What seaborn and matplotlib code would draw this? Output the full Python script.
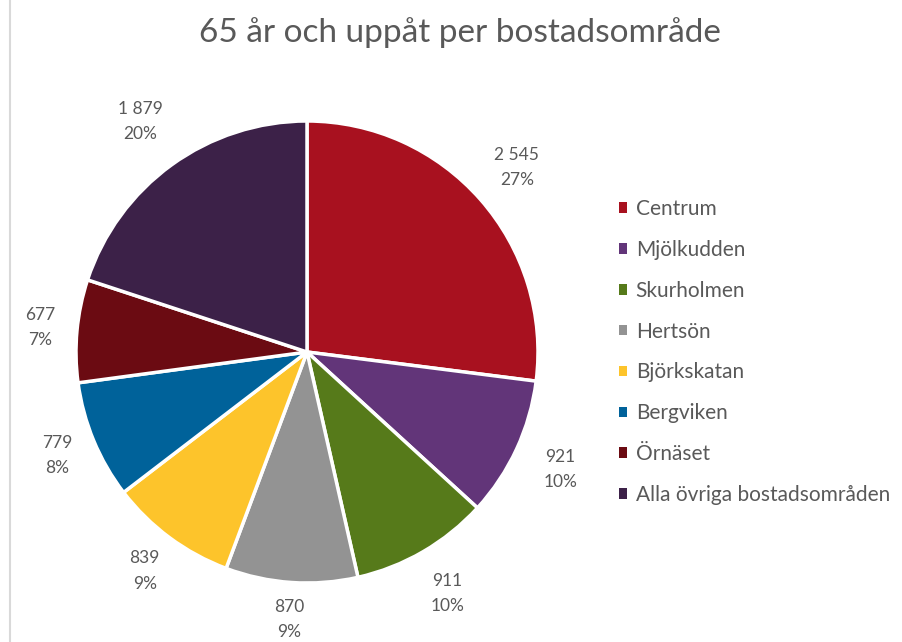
import numpy as np
import pandas as pd
import seaborn as sns
import matplotlib.pyplot as plt
from matplotlib.patches import Patch
from matplotlib.lines import Line2D

# data
omraden = ['Centrum', 'Mjölkudden', 'Skurholmen', 'Hertsön', 'Björkskatan',
           'Bergviken', 'Örnäset', 'Alla övriga bostadsområden']
antal = [2545, 921, 911, 870, 839, 779, 677, 1879]
farger = ['#A8111F', '#623579', '#567A1A', '#939393', '#FDC42B',
          '#00629A', '#6B0B12', '#3C2148']
# hur långt ut varje etikett sitter (i radier)
etikett_avstand = [1.21, 1.21, 1.21, 1.16, 1.18, 1.17, 1.16, 1.23]

df = pd.DataFrame({'omrade': omraden, 'antal': antal})
df['andel'] = df['antal'] / df['antal'].sum()

sns.set_theme(style='white')
plt.rcParams['font.family'] = ['Lato', 'DejaVu Sans']
textfarg = '#595959'

fig = plt.figure(figsize=(9.03, 6.42), dpi=100)

# pie axes: center at (307, 352) px, radius 231 px
R = 231
lim = 1.3
w = 2 * lim * R
ax = fig.add_axes([(307 - w / 2) / 903, (642 - 352 - w / 2) / 642, w / 903, w / 642])

palette = sns.color_palette(farger)
etiketter = [f"{a:,}".replace(',', ' ') + f"\n{p:.0%}" for a, p in zip(df['antal'], df['andel'])]

wedges, texts = ax.pie(df['antal'], colors=palette, startangle=90, counterclock=False,
                       labels=etiketter, labeldistance=1.21,
                       wedgeprops=dict(edgecolor='white', linewidth=2.5),
                       textprops=dict(color=textfarg, fontsize=12.5, linespacing=1.7))
for wdg, t, d in zip(wedges, texts, etikett_avstand):
    vinkel = np.deg2rad((wdg.theta1 + wdg.theta2) / 2)
    t.set_position((d * np.cos(vinkel), d * np.sin(vinkel)))
    t.set_horizontalalignment('center')
    t.set_verticalalignment('center')
ax.set_xlim(-lim, lim)
ax.set_ylim(-lim, lim)
ax.axis('off')

fig.text(460 / 903, 1 - 33 / 642, '65 år och uppåt per bostadsområde',
         ha='center', va='center', fontsize=24, color=textfarg)

handles = [Patch(facecolor=c, edgecolor='none') for c in palette]
leg = fig.legend(handles, omraden, loc='center left', bbox_to_anchor=(619 / 903, 1 - 352 / 642),
                 frameon=False, fontsize=15, labelcolor=textfarg, borderpad=0, borderaxespad=0,
                 handlelength=0.4, handleheight=0.4, handletextpad=0.4, labelspacing=1.0)

# left border line
fig.add_artist(Line2D([10 / 903, 10 / 903], [0, 1], color='#D9D9D9', linewidth=1.5))

fig.savefig('out.png', dpi=100)
